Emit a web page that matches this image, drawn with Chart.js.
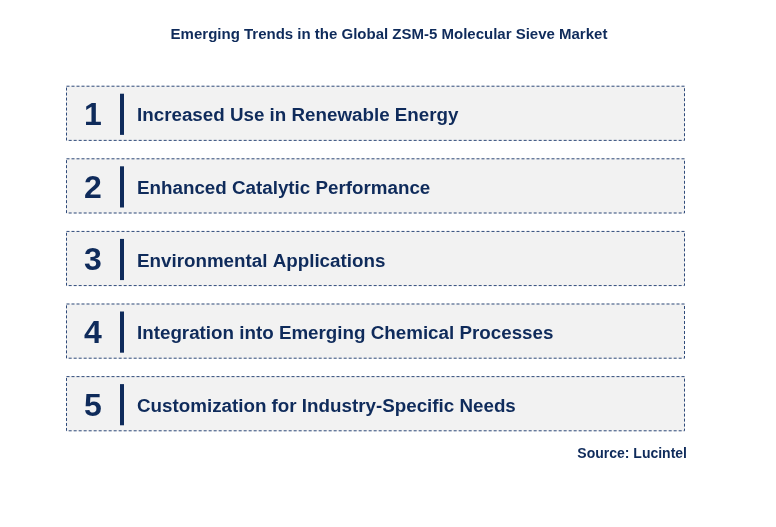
<!DOCTYPE html>
<html><head><meta charset="utf-8">
<script src="https://cdn.jsdelivr.net/npm/chart.js@4"></script>
<style>html,body{margin:0;padding:0;background:#fff}#w{width:776px;height:527px}</style>
</head><body><div id="w"><canvas id="c"></canvas></div>
<script>
const numbers = ["1","2","3","4","5"];
const trends = ["Increased Use in Renewable Energy","Enhanced Catalytic Performance","Environmental Applications","Integration into Emerging Chemical Processes","Customization for Industry-Specific Needs"];
const values = [1,1,1,1,1];
const titleText = "Emerging Trends in the Global ZSM-5 Molecular Sieve Market";
const sourceText = "Source: Lucintel";
const navy = "#0f2b5b";
const deco = {
  id:'deco',
  afterDatasetsDraw(chart){
    const ctx = chart.ctx;
    const meta = chart.getDatasetMeta(0);
    meta.data.forEach((bar,i)=>{
      const top = bar.y - bar.height/2, bot = bar.y + bar.height/2;
      const left = bar.base, right = bar.x;
      ctx.save();
      ctx.setLineDash([3,2]);
      ctx.strokeStyle = "#2f4a7a"; ctx.lineWidth = 1;
      ctx.strokeRect(left+0.5, top+0.5, right-left-1, bot-top-1);
      ctx.setLineDash([]);
      ctx.fillStyle = navy;
      ctx.font = "bold 32px 'Liberation Sans', Arial";
      ctx.textAlign = "center"; ctx.textBaseline = "middle";
      ctx.fillText(numbers[i], left+27, bar.y+3);
      ctx.fillRect(left+54, top+8, 4, bot-top-14);
      ctx.font = "bold 18.8px 'Liberation Sans', Arial";
      ctx.textAlign = "left";
      ctx.fillText(trends[i], left+71, bar.y+3);
      ctx.restore();
    });
    ctx.save();
    ctx.fillStyle = navy; ctx.textBaseline = "middle";
    ctx.font = "bold 15px 'Liberation Sans', Arial"; ctx.textAlign = "center";
    ctx.fillText(titleText, 389, 35);
    ctx.font = "bold 14px 'Liberation Sans', Arial"; ctx.textAlign = "right";
    ctx.fillText(sourceText, 687, 454);
    ctx.restore();
  }
};
new Chart(document.getElementById('c'),{
  type:'bar',
  data:{labels:trends,datasets:[{data:values,backgroundColor:"#f2f2f2",borderWidth:0,categoryPercentage:1,barPercentage:0.76}]},
  options:{indexAxis:'y',responsive:true,maintainAspectRatio:false,animation:false,
    layout:{padding:{left:66,right:91,top:77,bottom:87}},
    plugins:{legend:{display:false},tooltip:{enabled:false}},
    scales:{x:{display:false,min:0,max:1},y:{display:false}}},
  plugins:[deco]
});
</script></body></html>
